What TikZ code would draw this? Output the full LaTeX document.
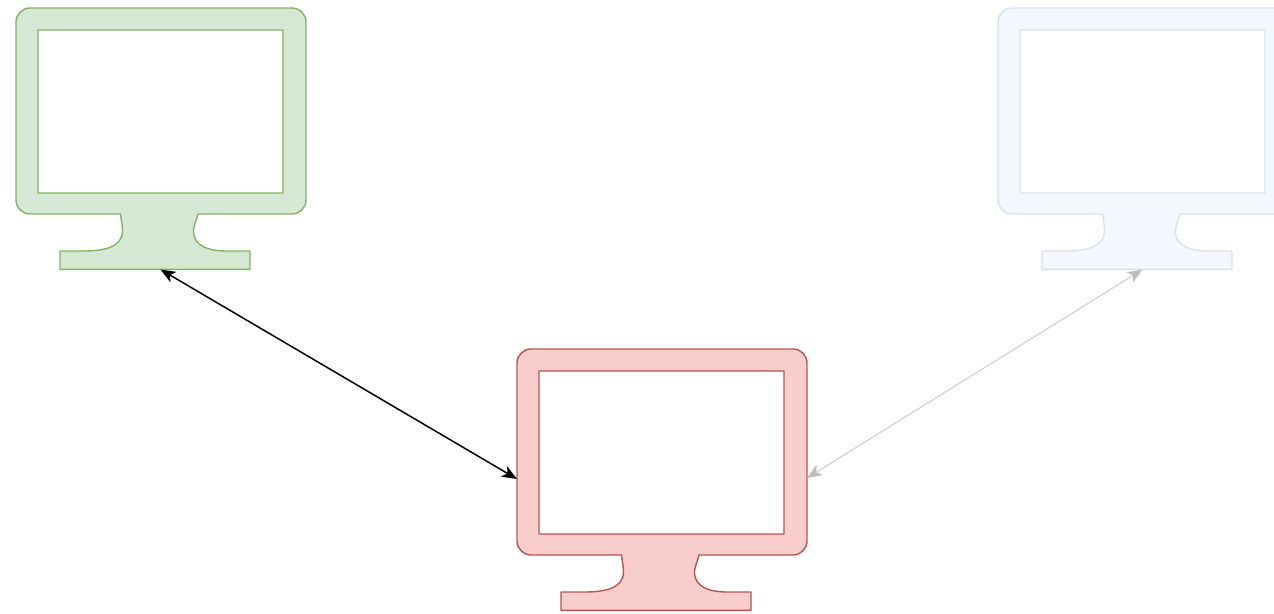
\documentclass[tikz,border=0pt]{standalone}
\usetikzlibrary{arrows.meta}
\definecolor{gfill}{HTML}{D5E8D4}\definecolor{gline}{HTML}{82B366}
\definecolor{rfill}{HTML}{F8CECC}\definecolor{rline}{HTML}{B85450}
\definecolor{bfill}{HTML}{F3F7FE}\definecolor{bline}{HTML}{D6E2F4}
\definecolor{greylink}{HTML}{CFCFCF}\definecolor{greytip}{HTML}{BDBDBD}
\tikzset{
  x=1pt,y=-1pt,
  monitorline/.style={line width=1.4pt,line join=round},
  duplex/.style={line width=1.5pt,black,{Stealth[length=15pt,width=12pt,inset=4pt]}-{Stealth[length=15pt,width=12pt,inset=4pt]}},
  duplexfaint/.style={line width=1.1pt,greylink,{Stealth[length=15pt,width=12pt,inset=4pt,color=greytip,fill=greytip]}-{Stealth[length=15pt,width=12pt,inset=4pt,color=greytip,fill=greytip]}},
  pics/monitor/.style args={#1/#2}{code={
    \path[monitorline,draw=#2,fill=#1,even odd rule]
      (30,8) -- (292,8) .. controls (299.7,8) and (306,14.3) .. (306,22) -- (306,200)
      .. controls (306,207.7) and (299.7,214) .. (292,214) -- (198,214)
      .. controls (196,222) and (193.5,226) .. (193.5,231)
      .. controls (193.5,246) and (208,251) .. (227,251)
      -- (250,251) -- (250,269.3) -- (60,269.3) -- (60,251) -- (84,251)
      .. controls (104,251) and (122.5,247) .. (122.5,231)
      .. controls (122.5,226) and (121.5,222) .. (120.5,214)
      -- (30,214) .. controls (22.3,214) and (16,207.7) .. (16,200) -- (16,22)
      .. controls (16,14.3) and (22.3,8) .. (30,8) -- cycle
      (38,30) -- (283,30) -- (283,193) -- (38,193) -- cycle;
    \coordinate (-foot) at (160.5,269.5);
    \coordinate (-left) at (16,138);
    \coordinate (-right) at (306,137);
  }}
}
\begin{document}
\begin{tikzpicture}
\useasboundingbox (0,0) rectangle (1274,613);
\clip (0,0) rectangle (1274,613);
\pic (green) at (0,0) {monitor={gfill/gline}};
\pic (red) at (501,341) {monitor={rfill/rline}};
\pic (blue) at (982,0) {monitor={bfill/bline}};
\draw[duplex] (green-foot) -- (red-left);
\draw[duplexfaint] (red-right) -- (blue-foot);
\end{tikzpicture}
\end{document}
